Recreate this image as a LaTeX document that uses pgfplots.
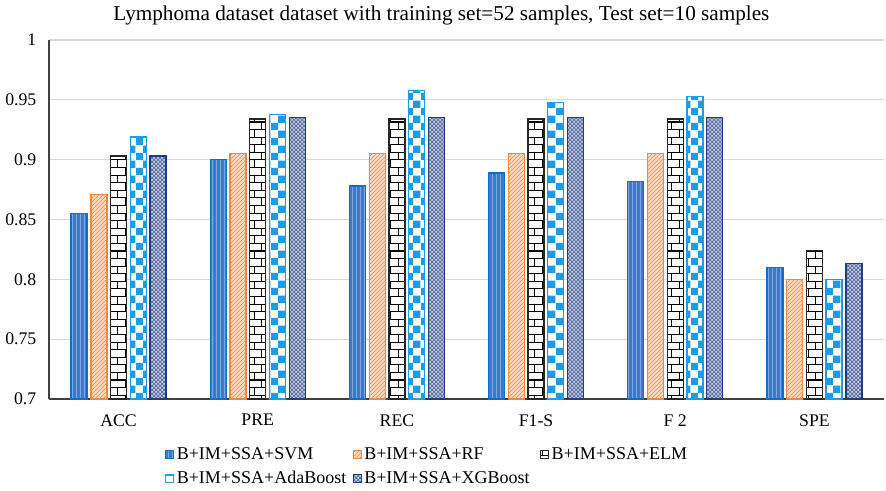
\documentclass[border=0pt]{standalone}
\usepackage{fontspec}
\setmainfont{Liberation Serif}
\usepackage{pgfplots}
\pgfplotsset{compat=1.18}
\usetikzlibrary{patterns}
\definecolor{svmfill}{HTML}{3F78CC}
\definecolor{svmline}{HTML}{0A70C8}
\definecolor{svmpat}{HTML}{7EA6E0}
\definecolor{rfc}{HTML}{F5873A}
\definecolor{elmc}{HTML}{262626}
\definecolor{adac}{HTML}{1C9BE6}
\definecolor{xgbc}{HTML}{1F3C82}
\definecolor{gridc}{HTML}{D9D9D9}
\definecolor{axc}{HTML}{404040}
\begin{document}
\begin{tikzpicture}
\begin{axis}[
  at={(0,0)}, anchor=south west,
  scale only axis, width=626.25pt, height=269.25pt,
  ybar=2.8pt, bar width=12pt,
  xmin=-0.5, xmax=5.5, ymin=0.7, ymax=1,
  xtick={0,...,5}, xticklabels={ACC,PRE,REC,F1-S,F 2,SPE},
  ytick={0.7,0.75,0.8,0.85,0.9,0.95,1},
  yticklabels={0.7,0.75,0.8,0.85,0.9,0.95,1},
  major tick length=0pt,
  axis x line*=bottom, axis y line*=left,
  axis line style={axc, line width=1.1pt, -},
  ymajorgrids, grid style={gridc, line width=0.9pt},
  tick label style={font=\fontsize{13.3}{15}\selectfont},
  yticklabel style={xshift=-6pt},
  xticklabel style={yshift=-8pt},
  title={Lymphoma dataset dataset with training set=52 samples, Test set=10 samples},
  title style={font=\fontsize{15.9}{18}\selectfont, at={(0.47,1)}, anchor=base, yshift=8.5pt},
  legend columns=3,
  legend style={draw=none, at={(0.139,-0.128)}, anchor=north west,
    font=\fontsize{13.5}{15}\selectfont, row sep=3pt, inner sep=0pt,
    /tikz/every even column/.append style={column sep=2pt}},
  legend cell align=left,
  legend image code/.code={\draw[#1,line width=0.6pt] (0pt,-3pt) rectangle (6pt,3pt);},
]
\addplot[fill=svmfill, draw=svmline, line width=1pt,
  postaction={pattern=vertical lines, pattern color=svmpat}]
  coordinates {(0,0.855) (1,0.900) (2,0.878) (3,0.889) (4,0.882) (5,0.810)};
\addlegendentry{\makebox[128pt][l]{B+IM+SSA+SVM}}
\addplot[fill=rfc!30!white, draw=rfc, line width=1pt,
  postaction={pattern=north east lines, pattern color=rfc}]
  coordinates {(0,0.871) (1,0.905) (2,0.905) (3,0.905) (4,0.905) (5,0.800)};
\addlegendentry{\makebox[128pt][l]{B+IM+SSA+RF}}
\addplot[fill=white, draw=elmc, line width=1pt,
  postaction={pattern=bricks, pattern color=black}]
  coordinates {(0,0.903) (1,0.934) (2,0.934) (3,0.934) (4,0.934) (5,0.824)};
\addlegendentry{\makebox[128pt][l]{B+IM+SSA+ELM}}
\addplot[fill=white, draw=adac, line width=1pt,
  postaction={pattern=checkerboard, pattern color=adac}]
  coordinates {(0,0.919) (1,0.938) (2,0.958) (3,0.948) (4,0.953) (5,0.800)};
\addlegendentry{\makebox[128pt][l]{B+IM+SSA+AdaBoost}}
\addplot[fill=xgbc!30!white, draw=xgbc, line width=1pt,
  postaction={pattern=crosshatch, pattern color=xgbc!80!white}]
  coordinates {(0,0.903) (1,0.935) (2,0.935) (3,0.935) (4,0.935) (5,0.813)};
\addlegendentry{\makebox[128pt][l]{B+IM+SSA+XGBoost}}
\end{axis}
\pgfresetboundingbox
\path (-36.75pt,-68.25pt) rectangle (627.75pt,299.25pt);
\end{tikzpicture}
\end{document}
